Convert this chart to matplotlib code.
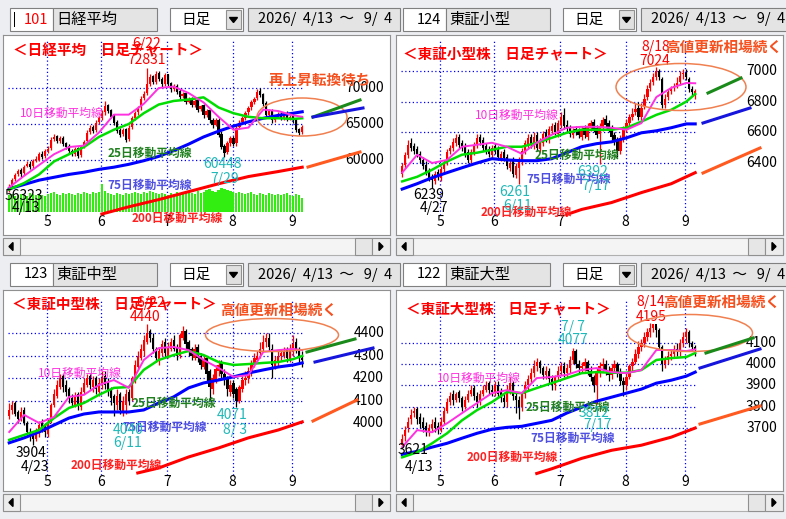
import matplotlib
matplotlib.use("Agg")
import matplotlib.pyplot as plt
from matplotlib.patches import Rectangle, Ellipse, Polygon

plt.rcParams['font.family'] = ['Noto Sans CJK JP', 'DejaVu Sans']

W, H = 786, 519
fig = plt.figure(figsize=(W / 100, H / 100), dpi=100)
fig.patch.set_facecolor('#eceef2')

# ---------------- data ----------------
month_labels = ['5', '6', '7', '8', '9']
month_idx = [13, 31, 53, 75, 95]

# 日経平均
nk_open = [55900,56500,57300,58000,58600,58200,59100,59500,59100,59900,
           60000,60900,60500,61300,61600,62900,63300,62700,63100,62300,
           61900,61300,60900,61600,60700,61900,62600,63900,64600,64100,
           65300,65900,66600,67600,66900,66100,65300,64100,63600,64300,
           62900,64600,65900,66600,67300,68600,69300,70600,71600,70900,
           72100,71300,70600,71900,70700,69900,70300,69600,68900,69300,
           68100,68600,67700,68300,67100,67600,66300,66900,65600,64900,
           65500,63600,61900,61100,62400,63100,62300,64600,65300,65900,
           66600,67300,68100,68600,69600,69100,67900,66300,66900,65600,
           66100,66400,65900,66500,65800,66100,65600,64300,63900]
nk_close = [56300,57200,57900,58500,58000,59000,59400,59000,59800,60200,
            60800,60400,61200,61500,62800,63200,62600,63000,62200,61800,
            61200,60800,61500,60600,61800,62500,63800,64500,64000,65200,
            65800,66500,67500,66800,66000,65200,64000,63500,64200,62800,
            64500,65800,66500,67200,68500,69200,70500,71500,70800,72000,
            71200,70500,71800,70600,69800,70200,69500,68800,69200,68000,
            68500,67600,68200,67000,67500,66200,66800,65500,64800,65600,
            63500,61800,61000,62300,63000,62200,64500,65200,65800,66500,
            67200,68000,68500,69500,69000,67800,66200,66800,65500,66000,
            66300,65800,66400,65700,66000,65500,64200,63800,64600]
nk_high = [56600,57500,58200,58800,58900,59300,59800,59800,60100,60500,
           61100,61200,61500,61900,63200,63600,63500,63300,63300,62500,
           62200,61500,61800,61800,62100,62800,64100,64900,64900,65500,
           66100,66900,68200,67800,67100,66400,65500,64500,64500,64500,
           64800,66100,66800,67500,68900,69600,72831,71900,71800,72300,
           72400,71500,72100,72000,70900,70500,70600,69900,69500,69500,
           68800,68800,68500,68600,67700,67800,67100,67200,65900,65900,
           65800,64000,62200,62600,63300,63400,64800,65500,66100,66800,
           67500,68300,68800,69800,70000,69300,68200,67100,67100,66300,
           66600,66700,66700,66800,66300,66400,65800,64500,64900]
nk_low = [55600,56300,57100,57800,57700,57900,59000,58700,58900,59700,
          59800,60200,60300,61000,61400,62600,62300,62400,62000,61500,
          60900,60500,60600,60300,60400,61700,62400,63600,63700,63900,
          65000,65600,66300,66500,65800,64900,63800,63200,63400,62500,
          62600,64300,65600,66300,67000,68300,69000,70300,70500,70600,
          71000,70200,70300,70300,69500,69600,69200,68500,68600,67800,
          67900,67300,67400,66700,66800,65900,66000,65200,64500,64700,
          63200,61500,60448,60900,62000,62000,62000,64300,65000,65600,
          66300,67000,67800,68300,68800,67500,66000,66000,65200,65300,
          65800,65500,65600,65400,65500,65200,63900,63500,63600]
# volume (relative units, 1 unit = 1 screen pixel of bar height)
nk_volume = [17,18,16,17,18,17,16,19,18,17, 18,17,16,18,19,20,18,17,19,18,
             19,18,17,19,18,20,19,18,20,19, 20,28,21,19,18,17,19,18,17,19,
             18,19,20,19,18,20,19,21,20,19, 18,19,18,17,19,18,20,19,18,19,
             20,19,18,21,19,20,22,23,21,20, 22,24,23,22,21,20,19,20,19,18,
             19,20,18,17,19,18,17,19,18,17, 18,17,18,19,17,16,18,17,14]

ma_idx = [0,5,10,15,20,25,30,35,40,45,50,55,60,65,70,75,80,85,90,95,98]
nk_ma10 = [56200,57800,59300,60800,61800,62000,63800,66300,66300,67800,70000,
           70200,69300,68000,66000,64200,64500,67000,66800,66200,66000]
nk_ma25 = [55900,56800,58000,59800,60800,61800,63200,64200,65000,66500,67700,
           68200,68400,68700,67300,66500,66000,65800,65800,65700,65800]
nk_ma75 = [56000,56600,57200,57600,58000,58300,58700,59000,59400,59900,60500,
           61300,62200,63200,64000,64700,65300,65800,66200,66500,66700]
nk_ma200_idx = [31,40,50,60,70,80,90,98]
nk_ma200 = [52500,53500,54500,55600,56700,57700,58400,59000]

# 東証小型
s_open = [6330,6390,6450,6530,6510,6490,6460,6420,6390,6350,
          6310,6280,6340,6300,6360,6400,6480,6500,6530,6570,
          6530,6510,6470,6420,6470,6520,6570,6550,6510,6490,
          6450,6510,6490,6430,6470,6440,6370,6420,6320,6370,
          6410,6480,6520,6570,6510,6580,6490,6530,6600,6550,
          6610,6650,6590,6650,6710,6650,6630,6580,6620,6610,
          6570,6630,6570,6630,6670,6630,6590,6630,6690,6660,
          6630,6580,6550,6480,6560,6620,6660,6700,6730,6760,
          6700,6770,6830,6890,6930,6960,7000,6950,6780,6830,
          6870,6890,6910,6930,6980,6990,6950,6880,6850]
s_close = [6380,6450,6520,6500,6480,6460,6420,6380,6340,6300,
           6290,6330,6310,6360,6400,6470,6500,6540,6560,6520,
           6500,6460,6420,6470,6520,6560,6540,6500,6480,6460,
           6500,6480,6440,6460,6430,6380,6400,6330,6380,6420,
           6480,6530,6560,6520,6570,6500,6540,6590,6560,6620,
           6640,6600,6660,6700,6640,6620,6590,6610,6600,6580,
           6620,6580,6640,6660,6620,6580,6640,6680,6650,6620,
           6570,6540,6480,6560,6620,6660,6700,6720,6750,6700,
           6760,6820,6880,6920,6960,7000,6960,6780,6820,6860,
           6880,6900,6920,6970,6990,6960,6880,6860,6870]
s_high = [6400,6470,6550,6560,6530,6510,6480,6440,6410,6370,
          6330,6350,6360,6380,6420,6490,6520,6560,6590,6590,
          6550,6530,6490,6490,6540,6590,6590,6570,6530,6510,
          6520,6530,6510,6480,6490,6460,6420,6440,6400,6440,
          6500,6550,6590,6590,6600,6600,6560,6610,6620,6640,
          6660,6670,6680,6730,6760,6680,6650,6630,6640,6630,
          6640,6650,6660,6680,6690,6650,6660,6700,6710,6680,
          6650,6600,6570,6580,6640,6690,6720,6760,6790,6800,
          6790,6850,6910,6950,6990,7024,7010,6960,6850,6880,
          6900,6920,6960,7000,7010,7010,6960,6900,6880]
s_low = [6310,6370,6430,6480,6460,6440,6400,6360,6320,6280,
         6239,6260,6290,6280,6340,6390,6460,6480,6510,6500,
         6480,6440,6400,6400,6450,6500,6520,6480,6460,6440,
         6430,6460,6420,6410,6410,6360,6350,6310,6300,6261,
         6390,6460,6500,6500,6490,6480,6470,6510,6540,6530,
         6590,6580,6570,6630,6620,6600,6570,6560,6580,6560,
         6550,6560,6550,6610,6600,6560,6392,6610,6630,6600,
         6550,6520,6440,6460,6540,6600,6640,6680,6710,6680,
         6680,6750,6810,6870,6910,6940,6940,6760,6760,6810,
         6850,6870,6890,6910,6950,6940,6860,6840,6820]
s_ma10 = [6337,6454,6400,6420,6506,6519,6532,6506,6460,6532,6584,
          6630,6636,6636,6630,6617,6660,6830,6890,6922,6920]
s_ma25 = [6280,6310,6356,6410,6454,6467,6486,6506,6506,6532,6564,
          6597,6617,6617,6617,6630,6670,6714,6747,6800,6850]
s_ma75 = [6230,6265,6304,6337,6369,6400,6428,6420,6415,6415,6428,
          6467,6506,6526,6538,6564,6597,6610,6630,6655,6655]
s_ma200_idx = [55,60,70,80,90,98]
s_ma200 = [6064,6097,6142,6207,6265,6337]

# 東証中型
m_open = [4030,4060,4090,4050,4020,4060,4000,3960,3950,3930,
          3960,4000,3990,3950,4010,4080,4120,4160,4210,4170,
          4150,4110,4080,4130,4070,4140,4170,4210,4160,4200,
          4140,4170,4210,4180,4150,4120,4080,4130,4050,4080,
          4140,4110,4190,4250,4290,4320,4360,4410,4380,4330,
          4280,4310,4360,4300,4330,4370,4340,4300,4380,4410,
          4360,4330,4290,4340,4300,4250,4290,4230,4150,4190,
          4230,4270,4220,4200,4140,4180,4150,4100,4150,4190,
          4200,4230,4260,4280,4310,4330,4360,4380,4330,4250,
          4270,4300,4300,4330,4280,4320,4360,4320,4290]
m_close = [4060,4080,4040,4020,4050,4000,3960,3940,3930,3960,
           3990,3980,3960,4000,4080,4130,4170,4200,4160,4140,
           4110,4090,4120,4080,4140,4180,4200,4170,4190,4150,
           4180,4200,4170,4140,4110,4090,4120,4060,4100,4130,
           4100,4200,4260,4300,4330,4370,4400,4380,4330,4290,
           4320,4350,4310,4340,4360,4330,4300,4390,4410,4350,
           4320,4300,4330,4290,4260,4280,4220,4160,4200,4240,
           4260,4220,4190,4150,4170,4130,4100,4160,4190,4200,
           4230,4260,4290,4300,4330,4360,4380,4340,4260,4280,
           4300,4310,4320,4290,4330,4350,4320,4300,4280]
m_high = [4090,4100,4100,4060,4070,4070,4010,3980,3960,3980,
          4010,4020,4000,4020,4090,4150,4190,4220,4220,4190,
          4160,4130,4140,4140,4160,4200,4220,4220,4210,4210,
          4200,4230,4230,4200,4160,4130,4150,4140,4120,4150,
          4150,4210,4280,4320,4350,4390,4440,4420,4400,4340,
          4340,4370,4380,4360,4380,4390,4350,4400,4430,4420,
          4370,4340,4350,4350,4310,4300,4300,4240,4220,4260,
          4280,4280,4240,4210,4190,4190,4160,4170,4210,4230,
          4250,4280,4310,4320,4360,4390,4400,4400,4350,4300,
          4320,4330,4340,4340,4350,4390,4380,4340,4320]
m_low = [4020,4040,4030,4000,4010,3990,3950,3920,3904,3920,
         3940,3960,3940,3940,4000,4070,4110,4150,4140,4120,
         4090,4070,4070,4060,4060,4130,4160,4150,4140,4130,
         4120,4150,4150,4120,4080,4030,4060,4040,4030,4040,
         4080,4100,4180,4240,4280,4300,4350,4360,4310,4270,
         4260,4300,4290,4290,4320,4320,4280,4290,4370,4330,
         4300,4280,4280,4270,4240,4240,4180,4100,4130,4180,
         4210,4200,4170,4120,4120,4110,4071,4090,4140,4170,
         4180,4210,4250,4270,4290,4320,4340,4320,4200,4240,
         4250,4280,4290,4270,4270,4300,4310,4270,4250]
m_ma10 = [3960,4036,4000,4027,4116,4125,4169,4191,4156,4280,4333,
          4338,4324,4280,4245,4205,4213,4316,4324,4329,4324]
m_ma25 = [3925,3947,3969,4022,4067,4089,4125,4156,4160,4236,4280,
          4302,4320,4302,4271,4258,4262,4267,4271,4284,4298]
m_ma75 = [3912,3934,3960,3991,4022,4040,4049,4049,4049,4058,4089,
          4116,4156,4178,4191,4205,4222,4236,4249,4258,4267]
m_ma200_idx = [43,50,60,70,80,90,98]
m_ma200 = [3778,3800,3849,3889,3934,3969,4005]

# 東証大型
l_open = [3621,3660,3700,3740,3770,3790,3750,3730,3710,3680,
          3700,3730,3710,3690,3730,3780,3820,3860,3830,3870,
          3840,3800,3830,3860,3890,3850,3820,3860,3880,3910,
          3880,3870,3900,3870,3840,3820,3880,3910,3850,3830,
          3800,3860,3900,3930,3960,3990,4010,3980,3950,3970,
          3930,3900,3940,3970,3990,3960,3980,4020,4060,4000,
          3980,3990,4010,3970,3940,3900,3960,3990,4000,3970,
          3950,3980,4000,3960,3920,3900,3940,3990,4010,4050,
          4080,4100,4130,4150,4170,4190,4160,4080,4000,4020,
          4040,4050,4070,4060,4100,4130,4150,4100,4080]
l_close = [3650,3690,3730,3760,3780,3740,3720,3700,3680,3700,
           3720,3700,3690,3730,3780,3820,3850,3830,3860,3840,
           3800,3830,3860,3880,3850,3820,3860,3880,3900,3880,
           3870,3900,3860,3840,3820,3880,3910,3850,3830,3800,
           3860,3900,3930,3960,3990,4010,3980,3950,3970,3930,
           3900,3940,3970,3990,3960,3980,4020,4060,4000,3980,
           3990,4010,3970,3940,3900,3960,3990,4000,3970,3950,
           3980,4000,3960,3920,3900,3940,3990,4010,4050,4080,
           4100,4130,4150,4170,4190,4160,4080,4000,4020,4040,
           4050,4070,4060,4100,4130,4150,4100,4080,4070]
l_high = [3670,3710,3750,3790,3800,3800,3770,3750,3730,3720,
          3740,3750,3730,3750,3800,3840,3870,3880,3870,3880,
          3850,3850,3880,3900,3900,3870,3880,3900,3920,3920,
          3900,3920,3920,3890,3860,3900,3940,3920,3870,3850,
          3870,3920,3950,3980,4020,4030,4020,3990,3990,3980,
          3950,3950,3990,4010,4010,4000,4040,4077,4070,4020,
          4010,4030,4020,3990,3950,3980,4010,4030,4020,3990,
          4000,4020,4010,3980,3940,3960,4000,4030,4070,4110,
          4120,4150,4170,4195,4190,4180,4170,4090,4040,4060,
          4070,4090,4100,4120,4150,4170,4160,4110,4090]
l_low = [3610,3640,3680,3720,3750,3720,3700,3680,3660,3660,
         3680,3680,3670,3680,3720,3770,3810,3810,3820,3820,
         3780,3790,3820,3850,3830,3800,3810,3850,3870,3860,
         3850,3850,3840,3820,3800,3800,3860,3830,3770,3740,
         3780,3840,3880,3910,3940,3970,3960,3930,3930,3910,
         3880,3880,3920,3950,3940,3940,3960,4000,3980,3960,
         3960,3970,3950,3920,3870,3812,3940,3970,3950,3920,
         3930,3960,3940,3900,3850,3880,3930,3970,4000,4030,
         4060,4080,4110,4130,4150,4130,4070,3970,3980,4000,
         4020,4030,4040,4040,4080,4100,4080,4060,4040]
l_ma10 = [3610,3690,3680,3722,3770,3817,3864,3878,3864,3935,3940,
          3950,3973,3982,3963,3958,3973,4067,4067,4062,4070]
l_ma25 = [3562,3586,3628,3675,3736,3784,3822,3869,3864,3888,3911,
          3935,3958,3963,3960,3960,3973,4020,4029,4034,4053]
l_ma75 = [3576,3590,3610,3628,3652,3675,3694,3703,3708,3722,3736,
          3770,3798,3826,3845,3864,3883,3911,3925,3944,3963]
l_ma200_idx = [45,50,60,70,80,90,98]
l_ma200 = [3486,3508,3557,3595,3619,3657,3700]

# ---------------- layout helpers ----------------
RED = '#ff0000'
MAG = '#ff30e0'
GRN = '#00dd00'
BLU = '#0000ff'
TEAL = '#20b8b8'
ORG = '#f5501e'
JP = ['Noto Sans CJK JP', 'DejaVu Sans']


def fr(x, y):
    return x / W, 1 - y / H


def rect(x0, y0, x1, y1, fc, ec='#a0a0a0', lw=0.8, z=0):
    fig.patches.append(Rectangle(fr(x0, y1), (x1 - x0) / W, (y1 - y0) / H,
                                 transform=fig.transFigure, facecolor=fc,
                                 edgecolor=ec, linewidth=lw, zorder=z))


def ftext(x, y, s, **kw):
    fig.text(x / W, 1 - y / H, s, **kw)


def panel(ox, oy, top, bottom, code, code_col, name, title, ylim_ref, ylabels,
          o, c, hi, lo, ma10, ma25, ma75, ma200i, ma200, deco, volume=None):
    # header widgets
    hy0, hy1 = top - 27, top - 4
    rect(ox + 10, oy + hy0, ox + 53, oy + hy1, 'white', '#808080')
    ftext(ox + 48, oy + (hy0 + hy1) / 2, code, ha='right', va='center',
          fontsize=10.5, color=code_col, family=JP)
    if code_col == RED:
        rect(ox + 14.5, oy + hy0 + 4, ox + 15.5, oy + hy1 - 4, 'black', 'black', 0)
    rect(ox + 53, oy + hy0, ox + 157, oy + hy1, '#e4e4e4', '#808080')
    ftext(ox + 56, oy + (hy0 + hy1) / 2, name, ha='left', va='center',
          fontsize=11, family=JP)
    rect(ox + 170, oy + hy0, ox + 243, oy + hy1, 'white', '#808080')
    ftext(ox + 196, oy + (hy0 + hy1) / 2, '日足', ha='center', va='center',
          fontsize=10.5, family=JP)
    rect(ox + 226, oy + hy0 + 2, ox + 241, oy + hy1 - 2, '#e0e0e0', '#909090')
    ax_ = ox + 233.5
    ay_ = oy + (hy0 + hy1) / 2
    fig.patches.append(Polygon([fr(ax_ - 4, ay_ - 2), fr(ax_ + 4, ay_ - 2), fr(ax_, ay_ + 3)],
                               closed=True, transform=fig.transFigure, color='black'))
    rect(ox + 248, oy + hy0, ox + 400, oy + hy1, '#e4e4e4', '#808080')
    ftext(ox + 258, oy + (hy0 + hy1) / 2, '2026/  4/13  ～   9/  4', ha='left', va='center',
          fontsize=10.5, family=JP)
    # scrollbar
    sy0, sy1 = bottom + 3, bottom + 20
    rect(ox + 3, oy + sy0, ox + 390, oy + sy1, '#f4f4f4', '#b0b0b0')
    rect(ox + 3, oy + sy0, ox + 20, oy + sy1, '#ececec', '#909090')
    rect(ox + 355, oy + sy0, ox + 372, oy + sy1, '#e6e6e6', '#909090')
    rect(ox + 372, oy + sy0, ox + 390, oy + sy1, '#ececec', '#909090')
    cy = oy + (sy0 + sy1) / 2
    fig.patches.append(Polygon([fr(ox + 9, cy), fr(ox + 13, cy - 4), fr(ox + 13, cy + 4)],
                               closed=True, transform=fig.transFigure, color='black'))
    fig.patches.append(Polygon([fr(ox + 383, cy), fr(ox + 379, cy - 4), fr(ox + 379, cy + 4)],
                               closed=True, transform=fig.transFigure, color='black'))

    # chart axes (white area)
    wx0, wx1 = 3, 390
    x0f, y1f = fr(ox + wx0, oy + top)
    x1f, y0f = fr(ox + wx1, oy + bottom)
    px_per_day = 2.99
    xl = ((wx0 - 9.2) / px_per_day, (wx1 - 9.2) / px_per_day)

    ax = fig.add_axes([x0f, y0f, x1f - x0f, y1f - y0f])
    ax.set_zorder(2)
    ax.set_facecolor('white')
    for sp in ax.spines.values():
        sp.set_color('#909090')
        sp.set_linewidth(0.8)
    ax.set_xticks([])
    ax.set_yticks([])
    (v1, p1), (v2, p2) = ylim_ref
    k = (v1 - v2) / (p2 - p1)
    ylim = (v1 - (bottom - p1) * k, v1 + (p1 - top) * k)
    ax.set_xlim(*xl)
    ax.set_ylim(*ylim)

    def P(x, y):
        return ((x - wx0) / (wx1 - wx0), 1 - (y - top) / (bottom - top))

    def t(x, y, s, **kw):
        kw.setdefault('family', JP)
        kw.setdefault('ha', 'center')
        kw.setdefault('va', 'center')
        ax.text(*P(x, y), s, transform=ax.transAxes, **kw)

    # volume (bars standing on a baseline near the bottom of the chart)
    if volume is not None:
        base = v1 - (212 - p1) * k
        ax.bar(range(len(volume)), [v * k for v in volume], width=0.7,
               bottom=base, color='#33ee11', zorder=1)

    # grid
    for mi in month_idx:
        ax.plot([mi - 0.3, mi - 0.3], [ylim[0] + (bottom - 215) * k, ylim[1] - (40 - top) * k],
                color=BLU, lw=0.9, ls=(0, (1, 2)), zorder=0.5)
    for val, _ in ylabels:
        ax.plot([-0.4, 98.3], [val, val], color=BLU, lw=0.9, ls=(0, (1, 2)), zorder=0.5)
    for val, lab in ylabels:
        ax.text(P(384, 0)[0], val, lab, transform=ax.get_yaxis_transform(),
                ha='right', va='center', fontsize=10, family=JP)
    for mi, ml in zip(month_idx, month_labels):
        ax.text(mi - 0.3, P(0, 222)[1], ml, transform=ax.get_xaxis_transform(),
                ha='center', va='center', fontsize=10, family=JP)

    # candles
    idx = list(range(len(c)))
    cols = [RED if cc >= oo else 'black' for oo, cc in zip(o, c)]
    ax.vlines(idx, lo, hi, colors=cols, lw=0.9, zorder=2)
    ax.bar(idx, [max(abs(cc - oo), k * 0.8) for oo, cc in zip(o, c)], 0.75,
           bottom=[min(oo, cc) for oo, cc in zip(o, c)], color=cols, zorder=2)

    # moving averages
    ax.plot(ma200i, ma200, color=RED, lw=2.2, zorder=3)
    ax.plot(ma_idx, ma75, color=BLU, lw=2.2, zorder=3)
    ax.plot(ma_idx, ma25, color=GRN, lw=1.8, zorder=3)
    ax.plot(ma_idx, ma10, color=MAG, lw=1.4, zorder=3)

    # decorations
    t(deco['title'][0], deco['title'][1], title, ha='left', color=RED,
      fontsize=10.5, fontweight='bold')
    for (x, y, s, col, bold, fs) in deco['texts']:
        t(x, y, s, color=col, fontweight='bold' if bold else 'normal', fontsize=fs)
    (ex, ey, ew, eh) = deco['ellipse']
    ax.add_patch(Ellipse(P(ex, ey), ew / (wx1 - wx0), eh / (bottom - top),
                         transform=ax.transAxes, fill=False, edgecolor='#f08050', lw=1.1, zorder=4))
    for (xa, ya, xb, yb), col in zip(deco['proj'], ['#1a8a1a', '#1515dd', '#ff5a20']):
        pa, pb = P(xa, ya), P(xb, yb)
        ax.plot([pa[0], pb[0]], [pa[1], pb[1]], transform=ax.transAxes, color=col, lw=2.2,
                zorder=4)
    return ax


NUMF = 10
LBLF = 8.5
# panel 1
panel(0, 0, 35, 235, '101', RED, '日経平均', '＜日経平均　日足チャート＞',
      ((70000, 88), (60000, 160)),
      [(70000, '70000'), (65000, '65000'), (60000, '60000')],
      nk_open, nk_close, nk_high, nk_low, nk_ma10, nk_ma25, nk_ma75,
      nk_ma200_idx, nk_ma200,
      dict(title=(13, 50),
           texts=[(147, 44, '6/22', RED, False, NUMF), (147, 60, '72831', RED, False, NUMF),
                  (320, 80, '再上昇転換待ち', ORG, True, 10.5),
                  (62, 113, '10日移動平均線', MAG, False, LBLF),
                  (150, 153, '25日移動平均線', '#208020', True, LBLF),
                  (150, 185, '75日移動平均線', '#5050e0', True, LBLF),
                  (177, 218, '200日移動平均線', '#ff2020', True, LBLF),
                  (223, 164, '60448', TEAL, False, NUMF), (225, 179, '7/29', TEAL, False, NUMF),
                  (24, 196, '56323', 'black', False, NUMF), (26, 208, '4/13', 'black', False, NUMF)],
           ellipse=(302, 117, 90, 38),
           proj=[(313, 117, 360, 100), (313, 117, 363, 108), (308, 167, 360, 152)]),
      volume=nk_volume)

# panel 2
panel(393, 0, 35, 235, '124', 'black', '東証小型', '＜東証小型株　日足チャート＞',
      ((7000, 71), (6400, 163)),
      [(7000, '7000'), (6800, '6800'), (6600, '6600'), (6400, '6400')],
      s_open, s_close, s_high, s_low, s_ma10, s_ma25, s_ma75, s_ma200_idx, s_ma200,
      dict(title=(10, 53),
           texts=[(263, 47, '8/18', RED, False, NUMF), (262, 61, '7024', RED, False, NUMF),
                  (331, 47, '高値更新相場続く', ORG, True, 10.5),
                  (124, 115, '10日移動平均線', MAG, False, LBLF),
                  (184, 155, '25日移動平均線', '#208020', True, LBLF),
                  (176, 179, '75日移動平均線', '#5050e0', True, LBLF),
                  (133, 212, '200日移動平均線', '#ff2020', True, LBLF),
                  (36, 195, '6239', 'black', False, NUMF), (41, 208, '4/27', 'black', False, NUMF),
                  (122, 192, '6261', TEAL, False, NUMF), (125, 206, '6/11', TEAL, False, NUMF),
                  (200, 172, '6392', TEAL, False, NUMF), (203, 186, '7/17', TEAL, False, NUMF)],
           ellipse=(288, 87, 130, 47),
           proj=[(315, 93, 348, 78), (310, 123, 357, 108), (310, 173, 367, 148)]))

# panel 3
panel(0, 260, 30, 231, '123', 'black', '東証中型', '＜東証中型株　日足チャート＞',
      ((4400, 73), (4000, 163)),
      [(4400, '4400'), (4300, '4300'), (4200, '4200'), (4100, '4100'), (4000, '4000')],
      m_open, m_close, m_high, m_low, m_ma10, m_ma25, m_ma75, m_ma200_idx, m_ma200,
      dict(title=(12, 43),
           texts=[(151, 43, '6/22', RED, False, NUMF), (145, 57, '4440', RED, False, NUMF),
                  (279, 50, '高値更新相場続く', ORG, True, 10.5),
                  (80, 113, '10日移動平均線', MAG, False, LBLF),
                  (174, 143, '25日移動平均線', '#208020', True, LBLF),
                  (165, 167, '75日移動平均線', '#5050e0', True, LBLF),
                  (116, 205, '200日移動平均線', '#ff2020', True, LBLF),
                  (31, 193, '3904', 'black', False, NUMF), (35, 207, '4/23', 'black', False, NUMF),
                  (128, 170, '4040', TEAL, False, NUMF), (128, 183, '6/11', TEAL, False, NUMF),
                  (232, 155, '4071', TEAL, False, NUMF), (235, 170, '8/ 3', TEAL, False, NUMF)],
           ellipse=(272, 75, 133, 33),
           proj=[(307, 92, 355, 79), (315, 102, 373, 88), (313, 161, 357, 140)]))

# panel 4
panel(393, 260, 30, 231, '122', 'black', '東証大型', '＜東証大型株　日足チャート＞',
      ((4100, 83), (3700, 168)),
      [(4100, '4100'), (4000, '4000'), (3900, '3900'), (3800, '3800'), (3700, '3700')],
      l_open, l_close, l_high, l_low, l_ma10, l_ma25, l_ma75, l_ma200_idx, l_ma200,
      dict(title=(13, 48),
           texts=[(258, 42, '8/14', RED, False, NUMF), (258, 57, '4195', RED, False, NUMF),
                  (329, 42, '高値更新相場続く', ORG, True, 10.5),
                  (86, 118, '10日移動平均線', MAG, False, LBLF),
                  (175, 147, '25日移動平均線', '#208020', True, LBLF),
                  (180, 178, '75日移動平均線', '#5050e0', True, LBLF),
                  (119, 197, '200日移動平均線', '#ff2020', True, LBLF),
                  (20, 190, '3621', 'black', False, NUMF), (26, 207, '4/13', 'black', False, NUMF),
                  (180, 67, '7/ 7', TEAL, False, NUMF), (180, 80, '4077', TEAL, False, NUMF),
                  (201, 153, '3812', TEAL, False, NUMF), (205, 165, '7/17', TEAL, False, NUMF)],
           ellipse=(297, 73, 125, 37),
           proj=[(313, 93, 360, 78), (307, 108, 367, 89), (307, 164, 367, 146)]))

fig.savefig('out.png', dpi=100, facecolor=fig.get_facecolor())
